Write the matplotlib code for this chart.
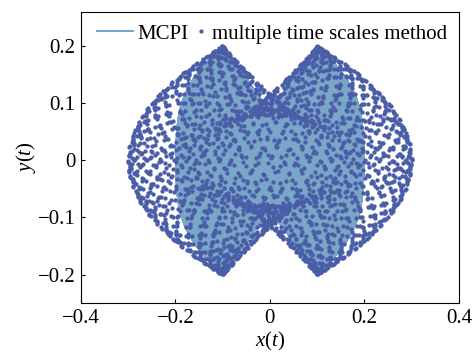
import numpy as np
import matplotlib
matplotlib.use("Agg")
import matplotlib.pyplot as plt
from matplotlib.lines import Line2D

plt.rcParams["font.family"] = ["Liberation Serif", "DejaVu Serif"]
plt.rcParams["mathtext.fontset"] = "custom"
plt.rcParams["mathtext.rm"] = "Liberation Serif"
plt.rcParams["mathtext.it"] = "Liberation Serif:italic"

# Slowly modulated 1:1 oscillation:
#   x = X1 cos t + X2 sin t,  y = Y1 cos t + Y2 sin t,  s = eps*t
#   X1 = x_mean + x_mod*cos(2s), X2 = -x_quad*sin(2s)
#   Y1 = y_amp*sin(s),           Y2 = y_quad*cos(s)
series = ["MCPI", "multiple time scales method"]
x_mean = [0.15, 0.20]
x_mod = [0.05, 0.10]
x_quad = [0.085, 0.09]
y_amp = [0.20, 0.20]
y_quad = [0.0, 0.08]
eps = [0.012361, 0.012361]
t_step = [0.05, 2.39996]
n_steps = [200000, 2600]

x_ticks = [-0.4, -0.2, 0, 0.2, 0.4]
y_ticks = [-0.2, -0.1, 0, 0.1, 0.2]
x_tick_labels = ["\u22120.4", "\u22120.2", "0", "0.2", "0.4"]
y_tick_labels = ["\u22120.2", "\u22120.1", "0", "0.1", "0.2"]


def trajectory(i):
    t = np.arange(n_steps[i]) * t_step[i]
    s = eps[i] * t
    X1 = x_mean[i] + x_mod[i] * np.cos(2 * s)
    X2 = -x_quad[i] * np.sin(2 * s)
    Y1 = y_amp[i] * np.sin(s)
    Y2 = y_quad[i] * np.cos(s)
    return X1 * np.cos(t) + X2 * np.sin(t), Y1 * np.cos(t) + Y2 * np.sin(t)


line_color = "#7aa6c7"
dot_color = "#4a5ea8"

fig = plt.figure(figsize=(4.76, 3.52), dpi=100)
ax = fig.add_axes([0.170, 0.139, 0.794, 0.827])

x0, y0 = trajectory(0)
ax.plot(x0, y0, color=line_color, lw=0.35, zorder=1)
x1, y1 = trajectory(1)
ax.plot(x1, y1, ls="none", marker="o", ms=3.1, mew=0, color=dot_color, zorder=2)

ax.set_xlim(-0.4, 0.4)
ax.set_ylim(-0.25, 0.26)
ax.set_xticks(x_ticks)
ax.set_xticklabels(x_tick_labels)
ax.set_yticks(y_ticks)
ax.set_yticklabels(y_tick_labels)
ax.tick_params(direction="in", length=3, labelsize=15, pad=4)
for sp in ax.spines.values():
    sp.set_linewidth(0.8)

ax.set_xlabel(r"$x$($t$)", fontsize=15, labelpad=1.5)
ax.set_ylabel(r"$y$($t$)", fontsize=15, labelpad=0)

h_line = Line2D([], [], color=line_color, lw=1.5)
h_dot = Line2D([], [], ls="none", marker="o", ms=3.1, mew=0, color=dot_color)
leg1 = ax.legend([h_line], [series[0]], loc="upper left", frameon=False,
                 fontsize=15, handlelength=1.75, handletextpad=0.2,
                 borderpad=0, borderaxespad=0, bbox_to_anchor=(0.042, 0.958))
ax.add_artist(leg1)
ax.legend([h_dot], [series[1]], loc="upper left", frameon=False,
          fontsize=15, handlelength=0.6, handletextpad=0.2,
          borderpad=0, borderaxespad=0, bbox_to_anchor=(0.302, 0.958))

fig.savefig("out.png", dpi=100)
